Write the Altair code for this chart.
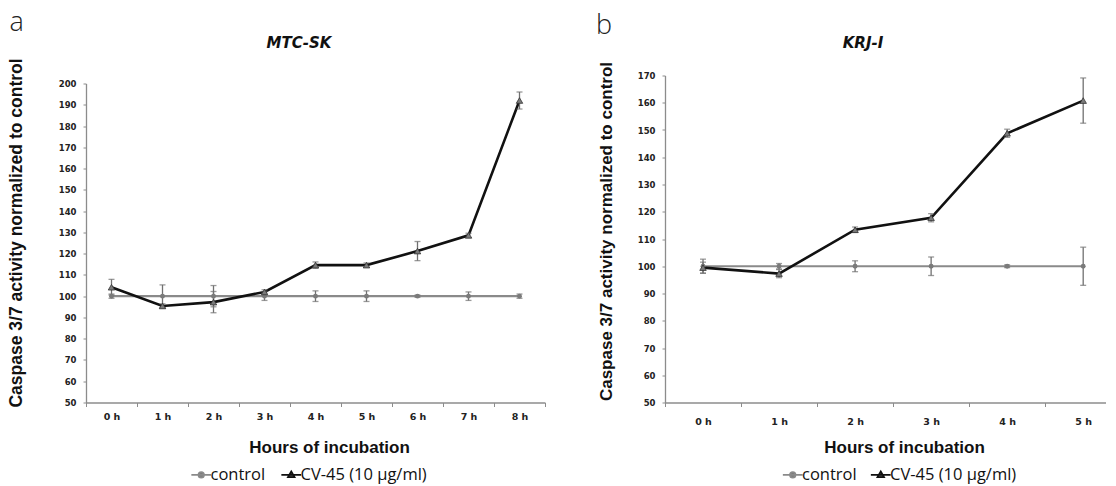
import altair as alt
import pandas as pd

# ---------------- data ----------------
series_names = ["control", "CV-45 (10 µg/ml)"]

mtc_hours = ["0 h", "1 h", "2 h", "3 h", "4 h", "5 h", "6 h", "7 h", "8 h"]
mtc_control = [100, 100, 100, 100, 100, 100, 100, 100, 100]
mtc_control_err = [1.0, 5.3, 5.0, 2.0, 2.5, 2.5, 0.5, 2.0, 1.0]
mtc_cv45 = [104.2, 95.4, 97.2, 102.0, 114.6, 114.6, 121.2, 128.6, 192.0]
mtc_cv45_err = [3.7, 1.0, 5.0, 1.0, 1.5, 1.0, 4.5, 1.0, 4.0]

krj_hours = ["0 h", "1 h", "2 h", "3 h", "4 h", "5 h"]
krj_control = [100, 100, 100, 100, 100, 100]
krj_control_err = [2.6, 1.0, 2.0, 3.4, 0.5, 7.0]
krj_cv45 = [99.5, 97.3, 113.4, 117.8, 148.8, 160.8]
krj_cv45_err = [2.0, 1.5, 1.0, 1.5, 1.5, 8.3]

y_title = "Caspase 3/7 activity normalized to control"
x_title = "Hours of incubation"

GREY_LINE = "#8a8a8a"
GREY_BAR = "#707070"
GREY_MARK = "#7a7a7a"

CTRL_PATH = "M-2.2,0H2.2M-0.6,0A0.6,0.6 0 1,0 0.6,0A0.6,0.6 0 1,0 -0.6,0Z"
CV_PATH = "M-2.2,0H2.2M0,-0.75L0.72,0.5L-0.72,0.5Z"


def frame(hours, ctrl, ctrl_err, cv, cv_err):
    rows = []
    for i, h in enumerate(hours):
        rows.append(dict(idx=i, hour=h, series=series_names[0], value=ctrl[i],
                         lo=ctrl[i] - ctrl_err[i], hi=ctrl[i] + ctrl_err[i]))
        rows.append(dict(idx=i, hour=h, series=series_names[1], value=cv[i],
                         lo=cv[i] - cv_err[i], hi=cv[i] + cv_err[i]))
    return pd.DataFrame(rows)


def panel(df, hours, title, letter, ymax, xmax, width, height, t):
    n = len(hours)
    xvals = sorted([i - 0.5 for i in range(n + 1) if i - 0.5 <= xmax] + list(range(n)))
    arr = "[" + ",".join("'" + h + "'" for h in hours) + "]"
    label_expr = "datum.value % 1 === 0 ? " + arr + "[datum.value] : ''"

    xscale = alt.Scale(domain=[-0.5, xmax], nice=False, zero=False)
    yscale = alt.Scale(domain=[50, ymax], nice=False, zero=False, range=[height, t["ytop"]])

    xaxis = alt.Axis(
        values=xvals, labelExpr=label_expr, grid=False,
        tickOpacity={"condition": {"test": "datum.value % 1 === 0", "value": 0}, "value": 1},
        tickSize=4, tickColor="#8c8c8c", domainColor="#8c8c8c", domainWidth=1.3,
        labelFont="DejaVu Sans", labelFontWeight="bold", labelFontSize=9.5,
        labelColor="#222222", labelPadding=t["xlabpad"], labelAngle=0,
        title=x_title, titleFont="Liberation Sans", titleFontSize=17,
        titleFontWeight="bold", titleColor="#111111",
        titleX=t["xtx"], titleY=t["xty"], titleBaseline="alphabetic", titleAnchor="middle",
    )
    yaxis = alt.Axis(
        values=list(range(50, ymax + 1, 10)), grid=False,
        tickSize=3, tickColor="#8c8c8c", domainColor="#8c8c8c", domainWidth=1.3,
        labelFont="DejaVu Sans", labelFontWeight="bold", labelFontSize=8.5,
        labelColor="#222222", labelPadding=7,
        title=y_title, titleFont="Liberation Sans", titleFontSize=t["ytfs"],
        titleFontWeight="bold", titleColor="#111111",
        titleX=t["ytx"], titleY=t["yty"], titleBaseline="alphabetic", titleAngle=270,
    )

    def X(f="idx"):
        return alt.X(f + ":Q", scale=xscale, axis=xaxis)

    def Y(f):
        return alt.Y(f + ":Q", scale=yscale, axis=yaxis)

    base = alt.Chart(df)
    ctrl = base.transform_filter(alt.datum.series == series_names[0])
    cv = base.transform_filter(alt.datum.series == series_names[1])

    ctrl_line = ctrl.mark_line(color=GREY_LINE, strokeWidth=2.2).encode(x=X(), y=Y("value"))
    cv_line = cv.mark_line(color="#111111", strokeWidth=2.6).encode(x=X(), y=Y("value"))
    rules = base.mark_rule(color=GREY_BAR, strokeWidth=1.3).encode(
        x=X(), y=Y("lo"), y2=alt.Y2("hi:Q"))
    caps = base.transform_fold(["lo", "hi"], as_=["end", "endv"]).mark_tick(
        orient="horizontal", size=6, thickness=1.3, color=GREY_BAR).encode(x=X(), y=Y("endv"))
    ctrl_pts = ctrl.mark_point(shape="circle", filled=True, size=24, color=GREY_MARK, opacity=1).encode(
        x=X(), y=Y("value"))
    cv_pts = cv.mark_point(shape="triangle-up", filled=True, size=42, fill=GREY_MARK,
                           stroke="#333333", strokeWidth=0.8, opacity=1).encode(x=X(), y=Y("value"))

    leg = alt.Legend(
        orient="none", legendX=t["lx"], legendY=t["ly"], direction="horizontal",
        title=None, symbolSize=81, symbolStrokeWidth=1.8, labelFont="Open Sans",
        labelFontSize=16.5, labelColor="#111111", labelOffset=1, columnPadding=t["cp"],
        labelLimit=400, padding=0,
    )
    legend_layer = base.transform_filter("false").mark_point(opacity=1).encode(
        x=X(), y=Y("value"),
        shape=alt.Shape("series:N", scale=alt.Scale(domain=series_names, range=[CTRL_PATH, CV_PATH]), legend=leg),
        stroke=alt.Stroke("series:N", scale=alt.Scale(domain=series_names, range=[GREY_LINE, "#111111"]), legend=leg),
        fill=alt.Fill("series:N", scale=alt.Scale(domain=series_names, range=[GREY_MARK, GREY_MARK]), legend=leg),
    )

    letter_layer = alt.Chart(pd.DataFrame({"letter": [letter]})).mark_text(
        font="Open Sans", fontSize=27, fontWeight=300, align="left", baseline="alphabetic", color="#222222"
    ).encode(text="letter:N", x=alt.value(t["lxp"]), y=alt.value(t["lyp"]))

    title_layer = alt.Chart(pd.DataFrame({"title": [title]})).mark_text(
        font="DejaVu Sans", fontSize=15, fontWeight="bold", fontStyle="italic",
        align="center", baseline="alphabetic", color="#111111"
    ).encode(text="title:N", x=alt.value(t["tx"]), y=alt.value(t["ty"]))

    return alt.layer(
        ctrl_line, cv_line, rules, caps, ctrl_pts, cv_pts, legend_layer, letter_layer, title_layer
    ).properties(width=width, height=height)


mtc_df = frame(mtc_hours, mtc_control, mtc_control_err, mtc_cv45, mtc_cv45_err)
krj_df = frame(krj_hours, krj_control, krj_control_err, krj_cv45, krj_cv45_err)

left = panel(mtc_df, mtc_hours, "MTC-SK", "a", 200, 8.5, 459, 327,
             dict(ytop=8, xlabpad=5, xtx=243, xty=50, ytfs=17.5, ytx=-65, yty=157,
                  lx=107, ly=391, cp=11, lxp=-76.5, lyp=-45, tx=213, ty=-28))
right = panel(krj_df, krj_hours, "KRJ-I", "b", 170, 5.3, 441, 327,
              dict(ytop=0, xlabpad=10, xtx=239, xty=50, ytfs=17, ytx=-53.5, yty=155.5,
                   lx=119.5, ly=391, cp=9, lxp=-69, lyp=-42, tx=198, ty=-28))

chart = alt.hconcat(left, right, spacing=50).resolve_scale(
    shape="independent", stroke="independent", fill="independent"
).resolve_legend(
    shape="independent", stroke="independent", fill="independent"
).properties(
    padding={"left": -2, "top": 0.5, "right": 0, "bottom": 0}
).configure_view(stroke=None)

chart.save("out.html", embed_options={"renderer": "svg", "actions": False})
